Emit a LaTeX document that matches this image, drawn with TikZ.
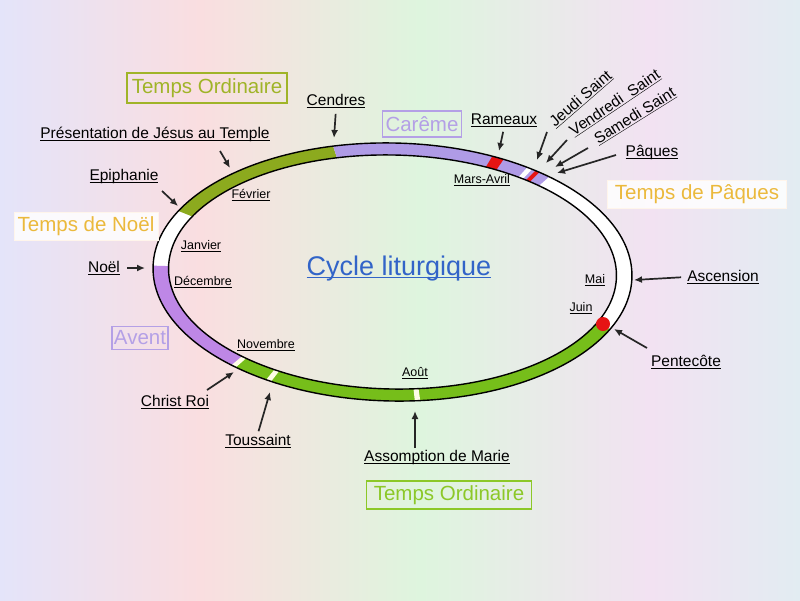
\documentclass[tikz,border=0pt]{standalone}
\usepackage{fontspec}
\setmainfont{Liberation Sans}
\usetikzlibrary{arrows.meta,positioning}
\definecolor{fondA}{RGB}{228,228,250}
\definecolor{fondB}{RGB}{250,222,224}
\definecolor{fondC}{RGB}{222,245,222}
\definecolor{fondD}{RGB}{242,226,242}
\definecolor{fondE}{RGB}{226,236,242}
\definecolor{ordOlive}{RGB}{140,170,30}
\definecolor{ordVert}{RGB}{118,190,26}
\definecolor{careme}{RGB}{175,155,230}
\definecolor{avent}{RGB}{190,135,230}
\definecolor{feteRouge}{RGB}{230,20,20}
\definecolor{txtOlive}{RGB}{160,180,40}
\definecolor{txtVert}{RGB}{140,200,40}
\definecolor{txtMauve}{RGB}{180,160,230}
\definecolor{txtOr}{RGB}{235,185,60}
\definecolor{lienBleu}{RGB}{50,100,200}
\newcommand{\lien}[1]{\underline{\vphantom{Ed}\smash{#1}}}
\newcommand{\secteur}[3]{%
  \fill[#3] plot[domain=#1:#2,samples=25] ({392.5+239.5*cos(\x)},{272-129*sin(\x)})
    -- plot[domain=#2:#1,samples=25] ({392.5+224*cos(\x)},{272-117*sin(\x)}) -- cycle;}

\begin{document}
\begin{tikzpicture}[x=1pt,y=-1pt,
    fleche/.style={-{Latex[length=8pt,width=7pt]}, line width=1.7pt, black!85},
    etiq/.style={font=\fontsize{15.5}{18}\selectfont, inner sep=1pt},
    mois/.style={font=\fontsize{12.5}{14}\selectfont, inner sep=1pt},
    temps/.style={line width=1.8pt, font=\fontsize{20.5}{23}\selectfont, inner sep=0pt}]
    % fond
    \shade[left color=fondA, right color=fondB] (0,0) rectangle (200.5,600);
    \shade[left color=fondB, right color=fondC] (200,0) rectangle (420.5,600);
    \shade[left color=fondC, right color=fondD] (420,0) rectangle (650.5,600);
    \shade[left color=fondD, right color=fondE] (650,0) rectangle (800,600);
    \useasboundingbox (0,0) rectangle (800,600);
    % anneau
    \begin{scope}[rotate around={-1.2:(392.5,272)}]
        \fill[white, even odd rule] (392.5,272) ellipse [x radius=239.5, y radius=129]
            (392.5,272) ellipse [x radius=224, y radius=117];
        \secteur{105}{154}{ordOlive}
        \secteur{49.8}{105}{careme}
        \secteur{179.4}{229}{avent}
        \secteur{229}{336}{ordVert}
        \secteur{63}{66}{feteRouge}
        \secteur{55}{56.4}{white}
        \secteur{52.8}{54}{feteRouge}
        \secteur{228.4}{229.8}{white!90!yellow}
        \secteur{238.8}{240.2}{white!90!yellow}
        \secteur{276}{277.3}{white!90!yellow}
        \draw[line width=1.4pt] (392.5,272) ellipse [x radius=239.5, y radius=129]
            (392.5,272) ellipse [x radius=224, y radius=117];
    \end{scope}
    \fill[feteRouge] (603,324) circle (7);
    % temps liturgiques
    \node[temps, draw=txtOlive, text=txtOlive, minimum width=160, minimum height=30] (ordHaut) at (207,88) {Temps Ordinaire};
    \node[temps, draw=txtMauve, text=txtMauve, minimum width=79, minimum height=26] (careme) at (422,124) {Carême};
    \node[temps, fill=white, fill opacity=0.85, text opacity=1, draw=white!92!orange, line width=0.8pt, text=txtOr, minimum width=179, minimum height=28] (tpaques) at (697,194) {Temps de Pâques};
    \node[temps, fill=white, fill opacity=0.85, text opacity=1, draw=white!92!orange, line width=0.8pt, text=txtOr, minimum width=144, minimum height=28] (tnoel) at (86,226) {Temps de Noël};
    \node[temps, draw=txtMauve, text=txtMauve, minimum width=56, minimum height=23] (avent) at (140,338) {Avent};
    \node[temps, draw=txtVert, text=txtVert, minimum width=165, minimum height=28] (ordBas) at (449,495) {Temps Ordinaire};
    \node[text=lienBleu, font=\fontsize{27}{30}\selectfont] (cycle) at (399,267) {\lien{Cycle liturgique}};
    % mois
    \node[mois] (fevrier) at (251,195) {\lien{Février}};
    \node[mois] (janvier) at (201,246) {\lien{Janvier}};
    \node[mois] (decembre) at (203,282) {\lien{Décembre}};
    \node[mois] (novembre) at (266,345) {\lien{Novembre}};
    \node[mois] (aout) at (415,373) {\lien{Août}};
    \node[mois] (marsavril) at (482,180) {\lien{Mars-Avril}};
    \node[mois] (mai) at (595,280) {\lien{Mai}};
    \node[mois] (juin) at (581,308) {\lien{Juin}};
    % fetes
    \node[etiq] (cendres) at (336,101) {\lien{Cendres}};
    \node[etiq] (rameaux) at (504,120) {\lien{Rameaux}};
    \node[etiq] (presentation) at (155,134) {\lien{Présentation de Jésus au Temple}};
    \node[etiq] (epiphanie) at (124,176) {\lien{Epiphanie}};
    \node[etiq] (noel) at (104,268) {\lien{Noël}};
    \node[etiq, rotate=41] (jeudi) at (581,99) {\lien{Jeudi Saint}};
    \node[etiq, rotate=34] (vendredi) at (615,103) {\lien{Vendredi~ Saint}};
    \node[etiq, rotate=32] (samedi) at (635,116) {\lien{Samedi Saint}};
    \node[etiq] (paques) at (652,152) {\lien{Pâques}};
    \node[etiq] (ascension) at (723,277) {\lien{Ascension}};
    \node[etiq] (pentecote) at (686,362) {\lien{Pentecôte}};
    \node[etiq] (assomption) at (437,457) {\lien{Assomption de Marie}};
    \node[etiq] (toussaint) at (258,441) {\lien{Toussaint}};
    \node[etiq] (christroi) at (175,402) {\lien{Christ Roi}};
    % fleches
    \coordinate (p-cendres) at (334,138);
    \coordinate (p-rameaux) at (499,151);
    \coordinate (q-presentation) at (220,151);
    \coordinate (p-presentation) at (230,168);
    \coordinate (q-epiphanie) at (162,191);
    \coordinate (p-epiphanie) at (178,206);
    \coordinate (p-noel) at (145,268);
    \coordinate (q-jeudi) at (547,132);
    \coordinate (p-jeudi) at (537,160);
    \coordinate (q-vendredi) at (567,140);
    \coordinate (p-vendredi) at (546,163);
    \coordinate (q-samedi) at (588,148);
    \coordinate (p-samedi) at (555,167);
    \coordinate (q-paques) at (616,155);
    \coordinate (p-paques) at (557,173);
    \coordinate (p-ascension) at (634,280);
    \coordinate (q-pentecote) at (647,348);
    \coordinate (p-pentecote) at (614,329);
    \coordinate (q-assomption) at (415,448);
    \coordinate (p-assomption) at (415,411);
    \coordinate (p-toussaint) at (270,392);
    \coordinate (q-christroi) at (207,390);
    \coordinate (p-christroi) at (234,372);
    \draw[fleche, shorten <=5pt] (cendres.south) -- (p-cendres);
    \draw[fleche, shorten <=4pt] (rameaux.south) -- (p-rameaux);
    \draw[fleche] (q-presentation) -- (p-presentation);
    \draw[fleche] (q-epiphanie) -- (p-epiphanie);
    \draw[fleche, shorten <=6pt] (noel.east) -- (p-noel);
    \draw[fleche] (q-jeudi) -- (p-jeudi);
    \draw[fleche] (q-vendredi) -- (p-vendredi);
    \draw[fleche] (q-samedi) -- (p-samedi);
    \draw[fleche] (q-paques) -- (p-paques);
    \draw[fleche, shorten <=5pt] (ascension.west) -- (p-ascension);
    \draw[fleche] (q-pentecote) -- (p-pentecote);
    \draw[fleche] (q-assomption) -- (p-assomption);
    \draw[fleche, shorten <=2pt] (toussaint.north) -- (p-toussaint);
    \draw[fleche] (q-christroi) -- (p-christroi);
\end{tikzpicture}
\end{document}
